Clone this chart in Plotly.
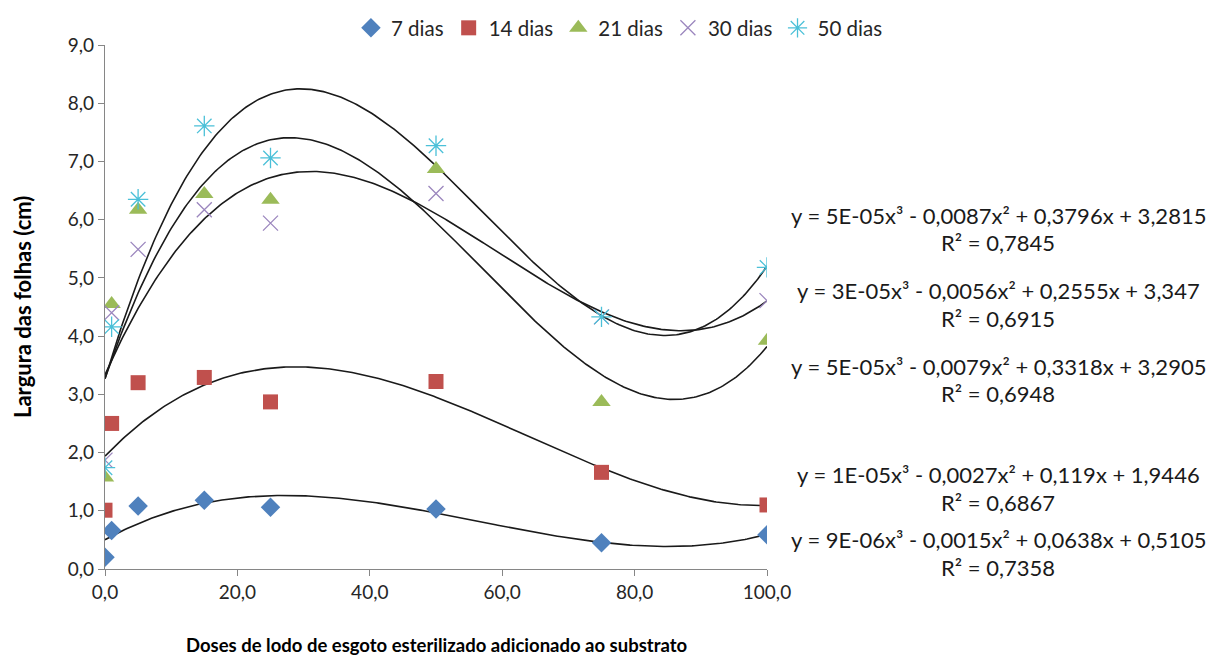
import numpy as np
import plotly.graph_objects as go

doses = [0, 1, 5, 15, 25, 50, 75, 100]
dias7 = [0.20, 0.66, 1.08, 1.18, 1.06, 1.03, 0.45, 0.59]
dias14 = [1.01, 2.50, 3.20, 3.29, 2.87, 3.22, 1.66, 1.10]
dias21 = [1.57, 4.55, 6.17, 6.44, 6.34, 6.87, 2.87, 3.92]
dias30 = [1.87, 4.40, 5.49, 6.17, 5.94, 6.45, 4.33, 4.61]
dias50 = [1.74, 4.16, 6.35, 7.61, 7.06, 7.27, 4.33, 5.18]

series_names = ["7 dias", "14 dias", "21 dias", "30 dias", "50 dias"]
series_values = [dias7, dias14, dias21, dias30, dias50]

equations = [
    ("y = 5E-05x³ - 0,0087x² + 0,3796x + 3,2815", "R² = 0,7845"),
    ("y = 3E-05x³ - 0,0056x² + 0,2555x + 3,347", "R² = 0,6915"),
    ("y = 5E-05x³ - 0,0079x² + 0,3318x + 3,2905", "R² = 0,6948"),
    ("y = 1E-05x³ - 0,0027x² + 0,119x + 1,9446", "R² = 0,6867"),
    ("y = 9E-06x³ - 0,0015x² + 0,0638x + 0,5105", "R² = 0,7358"),
]
eq_y = [(6.08, 5.60), (4.78, 4.30), (3.47, 3.01), (1.63, 1.15), (0.50, 0.02)]

y_ticks = [0, 1, 2, 3, 4, 5, 6, 7, 8, 9]
x_ticks = [0, 20, 40, 60, 80, 100]

styles = [
    dict(symbol="diamond", color="#4F81BD", size=15),
    dict(symbol="square", color="#C0504D", size=15),
    dict(symbol="triangle-up", color="#9BBB59", size=16),
    dict(symbol="x-thin-open", color="#9B86BE", size=15, line=dict(width=1.3, color="#9B86BE")),
    dict(symbol="asterisk-open", color="#4BC0D8", size=17, line=dict(width=1.3, color="#4BC0D8")),
]

FONT = "Lato, 'Open Sans', sans-serif"

fig = go.Figure()

xs = np.linspace(0, 100, 301)
for vals in series_values:
    coef = np.polyfit(doses, vals, 3)
    fig.add_trace(go.Scatter(x=xs, y=np.polyval(coef, xs), mode="lines",
                             line=dict(color="#1a1a1a", width=1.6),
                             showlegend=False, hoverinfo="skip"))

for name, vals, st in zip(series_names, series_values, styles):
    fig.add_trace(go.Scatter(x=doses, y=vals, mode="markers", name=name,
                             marker=st))

for (l1, l2), (y1, y2) in zip(equations, eq_y):
    for txt, yy in ((l1, y1), (l2, y2)):
        fig.add_annotation(x=1.349, xref="paper", y=yy, yref="y", text=txt,
                           showarrow=False, xanchor="center", yanchor="middle",
                           font=dict(family=FONT, size=22, color="#1a1a1a"))

# axis titles
fig.add_annotation(x=-0.1254, xref="paper", y=0.5, yref="paper",
                   text="<b>Largura das folhas (cm)</b>", textangle=-90,
                   showarrow=False, xanchor="center", yanchor="middle",
                   font=dict(family=FONT, size=22, color="#000000"))
fig.add_annotation(x=0.5015, xref="paper", y=-0.145, yref="paper",
                   text="<b>Doses de lodo de esgoto esterilizado adicionado ao substrato</b>",
                   showarrow=False, xanchor="center", yanchor="middle",
                   font=dict(family=FONT, size=18.5, color="#000000"))

# page body has an 8px margin, so the figure is offset by 8px
fig.update_layout(
    width=1206, height=651,
    margin=dict(l=97, r=447, t=37, b=90, autoexpand=False),
    plot_bgcolor="white", paper_bgcolor="white",
    separators=", ",
    font=dict(family=FONT, size=19, color="#262626"),
    legend=dict(orientation="h", x=0.507, xref="container", xanchor="center",
                y=1.0, yref="container", yanchor="top",
                font=dict(family=FONT, size=20.5, color="#262626"),
                itemwidth=30, tracegroupgap=0),
    xaxis=dict(range=[0, 100], tickvals=x_ticks, tickformat=".1f",
               showgrid=False, zeroline=False, showline=True,
               linecolor="#868686", linewidth=1.3, ticks="outside",
               ticklen=6, tickcolor="#868686", automargin=False),
    yaxis=dict(range=[0, 9], tickvals=y_ticks, tickformat=".1f",
               showgrid=False, zeroline=False, showline=True,
               linecolor="#868686", linewidth=1.3, ticks="outside",
               ticklen=6, tickcolor="#868686", automargin=False),
)

fig.write_html("out.html")
